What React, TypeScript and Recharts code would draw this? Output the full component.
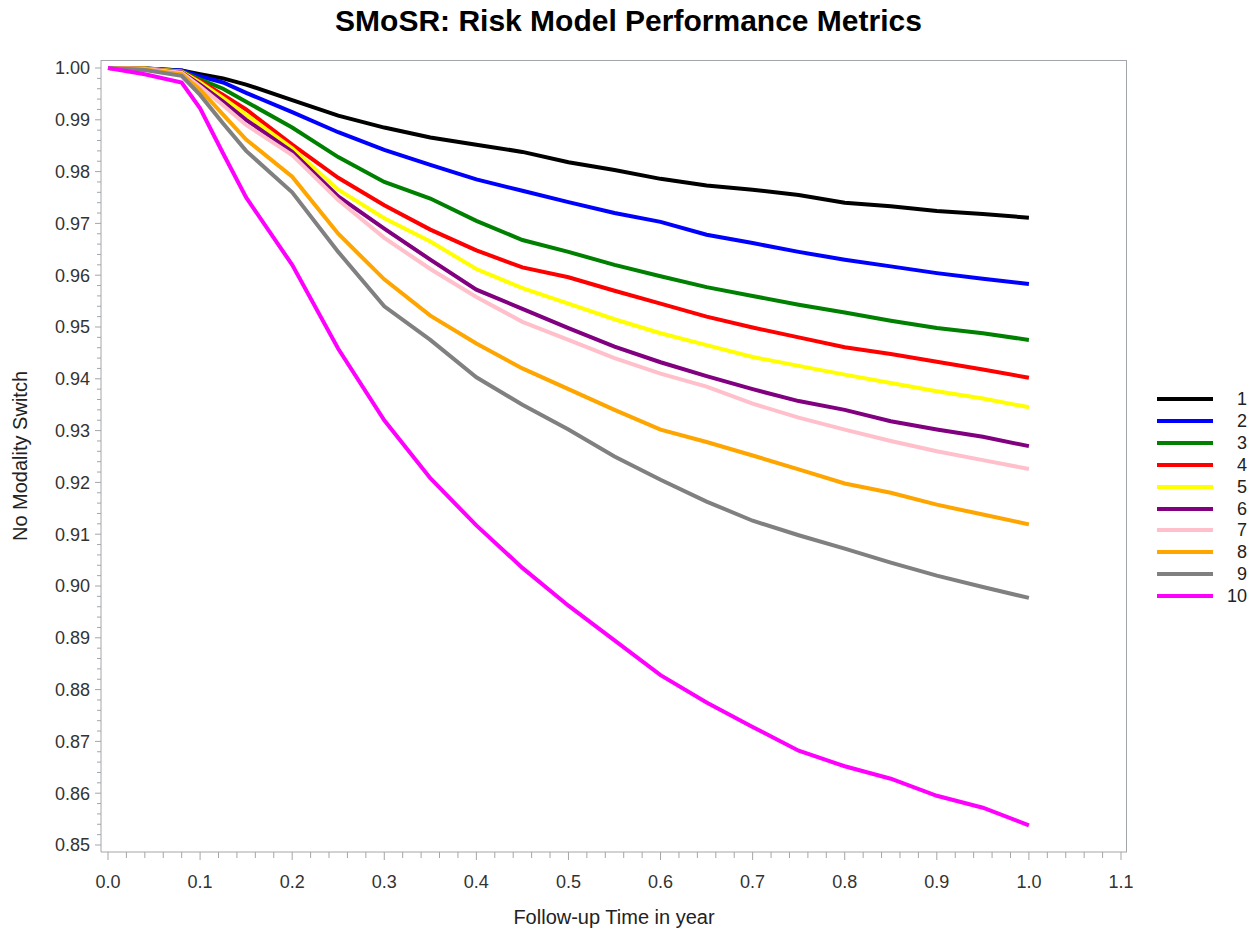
import { LineChart, Line, XAxis, YAxis } from "recharts";

// follow-up time (years) where the curves were read
const TIME = [0, 0.04, 0.08, 0.1, 0.125, 0.15, 0.2, 0.25, 0.3, 0.35, 0.4, 0.45, 0.5, 0.55, 0.6, 0.65, 0.7, 0.75, 0.8, 0.85, 0.9, 0.95, 1.0];

const g1 = [1.0, 0.9999, 0.9995, 0.9988, 0.998, 0.9968, 0.9938, 0.9908, 0.9885, 0.9866, 0.9852, 0.9838, 0.9818, 0.9803, 0.9786, 0.9773, 0.9765, 0.9755, 0.974, 0.9733, 0.9724, 0.9718, 0.9711];
const g2 = [1.0, 0.9999, 0.9995, 0.9984, 0.9972, 0.9952, 0.9915, 0.9876, 0.9842, 0.9813, 0.9785, 0.9763, 0.9741, 0.972, 0.9703, 0.9678, 0.9662, 0.9645, 0.963, 0.9617, 0.9604, 0.9593, 0.9583];
const g3 = [1.0, 0.9999, 0.9994, 0.9978, 0.996, 0.9935, 0.9885, 0.9828, 0.978, 0.9748, 0.9705, 0.9668, 0.9645, 0.962, 0.9598, 0.9577, 0.956, 0.9543, 0.9528, 0.9512, 0.9498, 0.9488, 0.9475];
const g4 = [1.0, 0.9999, 0.9993, 0.9975, 0.9948, 0.992, 0.9852, 0.9788, 0.9735, 0.9688, 0.9648, 0.9615, 0.9596, 0.957, 0.9545, 0.952, 0.9499, 0.948, 0.9461, 0.9448, 0.9433, 0.9418, 0.9402];
const g5 = [1.0, 0.9999, 0.9993, 0.9972, 0.9942, 0.991, 0.9845, 0.9765, 0.971, 0.9665, 0.9612, 0.9575, 0.9545, 0.9515, 0.9488, 0.9465, 0.9442, 0.9425, 0.9408, 0.9392, 0.9376, 0.9362, 0.9345];
const g6 = [1.0, 0.9998, 0.9992, 0.9968, 0.9935, 0.99, 0.9838, 0.9752, 0.969, 0.963, 0.9572, 0.9535, 0.9498, 0.9462, 0.9432, 0.9405, 0.938, 0.9357, 0.934, 0.9318, 0.9302, 0.9288, 0.927];
const g7 = [1.0, 0.9998, 0.9991, 0.9964, 0.9928, 0.989, 0.9832, 0.9745, 0.9672, 0.9612, 0.9558, 0.951, 0.9475, 0.944, 0.941, 0.9385, 0.9352, 0.9325, 0.9302, 0.928, 0.926, 0.9243, 0.9226];
const g8 = [1.0, 0.9997, 0.9988, 0.9958, 0.991, 0.9862, 0.979, 0.968, 0.9592, 0.9522, 0.9468, 0.942, 0.938, 0.934, 0.9302, 0.9278, 0.9252, 0.9225, 0.9198, 0.918, 0.9157, 0.9138, 0.9119];
const g9 = [1.0, 0.9996, 0.9985, 0.9948, 0.9893, 0.984, 0.976, 0.9645, 0.954, 0.9475, 0.9403, 0.935, 0.9302, 0.925, 0.9205, 0.9163, 0.9126, 0.9098, 0.9072, 0.9045, 0.902, 0.8998, 0.8977];
const g10 = [1.0, 0.9988, 0.9972, 0.9922, 0.9835, 0.975, 0.962, 0.9458, 0.932, 0.9208, 0.9117, 0.9035, 0.8962, 0.8895, 0.8828, 0.8775, 0.8728, 0.8682, 0.8652, 0.8628, 0.8595, 0.8572, 0.8538];

const GROUPS = ["1", "2", "3", "4", "5", "6", "7", "8", "9", "10"];
const COLORS = ["#000000", "#0000ff", "#008000", "#ff0000", "#ffff00", "#800080", "#ffc0cb", "#ffa500", "#808080", "#ff00ff"];
const SERIES = [g1, g2, g3, g4, g5, g6, g7, g8, g9, g10];

const Y_MAJOR = [0.85, 0.86, 0.87, 0.88, 0.89, 0.9, 0.91, 0.92, 0.93, 0.94, 0.95, 0.96, 0.97, 0.98, 0.99, 1.0];
const X_MAJOR = [0, 0.1, 0.2, 0.3, 0.4, 0.5, 0.6, 0.7, 0.8, 0.9, 1.0, 1.1];

// minor ticks: 4 between each pair of majors
const Y_TICKS = Array.from({ length: 76 }, (_, i) => Math.round((0.85 + i * 0.002) * 1000) / 1000);
const X_TICKS = Array.from({ length: 56 }, (_, i) => Math.round(i * 0.02 * 100) / 100);

const data = TIME.map((t, i) => {
  const row: any = { t };
  GROUPS.forEach((g, j) => {
    row["g" + g] = SERIES[j][i];
  });
  return row;
});

const AXIS = "#a2a6aa";
const FONT = "'Liberation Sans', Arial, sans-serif";

const isMajor = (v: number, list: number[]) => list.some((m) => Math.abs(m - v) < 1e-6);

const YTick = (props: any) => {
  const { x, y, payload } = props;
  const major = isMajor(payload.value, Y_MAJOR);
  return (
    <g>
      <line x1={x} x2={x - (major ? 6 : 4)} y1={y} y2={y} stroke={AXIS} />
      {major && (
        <text x={x - 11} y={y} dy="0.35em" textAnchor="end" fontSize={18} fontFamily={FONT} fill="#333">
          {payload.value.toFixed(2)}
        </text>
      )}
    </g>
  );
};

const XTick = (props: any) => {
  const { x, y, payload } = props;
  const major = isMajor(payload.value, X_MAJOR);
  return (
    <g>
      <line x1={x} x2={x} y1={y} y2={y + (major ? 8 : 6)} stroke={AXIS} />
      {major && (
        <text x={x} y={y + 23} dy="0.71em" textAnchor="middle" fontSize={18} fontFamily={FONT} fill="#333">
          {payload.value.toFixed(1)}
        </text>
      )}
    </g>
  );
};

export default function App() {
  return (
    <div style={{ position: "absolute", left: 0, top: 0, width: 1257, height: 932, background: "#fff", fontFamily: FONT }}>
      <div
        style={{
          position: "absolute", top: 4, left: 0, width: 1257, height: 34, lineHeight: "34px",
          textAlign: "center", fontSize: 30, fontWeight: "bold", color: "#000",
        }}
      >
        SMoSR: Risk Model Performance Metrics
      </div>

      <LineChart width={1257} height={932} data={data} margin={{ top: 60, right: 130, left: 21, bottom: 0 }}>
        <XAxis
          dataKey="t"
          type="number"
          domain={[0, 1.1]}
          ticks={X_TICKS}
          interval={0}
          padding={{ left: 7, right: 6 }}
          height={80}
          tickSize={0}
          tickMargin={0}
          tickLine={false}
          tick={<XTick />}
          axisLine={{ stroke: AXIS }}
        />
        <YAxis
          type="number"
          domain={[0.85, 1.0]}
          ticks={Y_TICKS}
          interval={0}
          padding={{ top: 8, bottom: 7 }}
          width={80}
          tickSize={0}
          tickMargin={0}
          tickLine={false}
          tick={<YTick />}
          axisLine={{ stroke: AXIS }}
        />
        {GROUPS.map((g, j) => (
          <Line
            key={g}
            type="linear"
            dataKey={"g" + g}
            stroke={COLORS[j]}
            strokeWidth={4}
            dot={false}
            isAnimationActive={false}
          />
        ))}
      </LineChart>

      {/* frame around the plot area */}
      <div
        style={{
          position: "absolute", left: 101, top: 60, width: 1026, height: 792,
          boxSizing: "border-box", borderTop: `1px solid ${AXIS}`, borderRight: `1px solid ${AXIS}`,
          pointerEvents: "none",
        }}
      />

      <div
        style={{
          position: "absolute", top: 905, left: 101, width: 1026, height: 24, lineHeight: "24px",
          textAlign: "center", fontSize: 20, color: "#222",
        }}
      >
        Follow-up Time in year
      </div>
      <div
        style={{
          position: "absolute", top: 456 - 12, left: 20 - 150, width: 300, height: 24, lineHeight: "24px",
          textAlign: "center", fontSize: 20, color: "#222", transform: "rotate(-90deg)",
        }}
      >
        No Modality Switch
      </div>

      {GROUPS.map((g, j) => {
        const cy = 399 + j * 21.9;
        return (
          <div key={g}>
            <div style={{ position: "absolute", left: 1157, top: cy - 2, width: 56, height: 4, background: COLORS[j] }} />
            <div
              style={{
                position: "absolute", left: 1215, top: cy - 11, width: 32, height: 22, lineHeight: "22px",
                textAlign: "right", fontSize: 18, color: "#222",
              }}
            >
              {g}
            </div>
          </div>
        );
      })}
    </div>
  );
}
